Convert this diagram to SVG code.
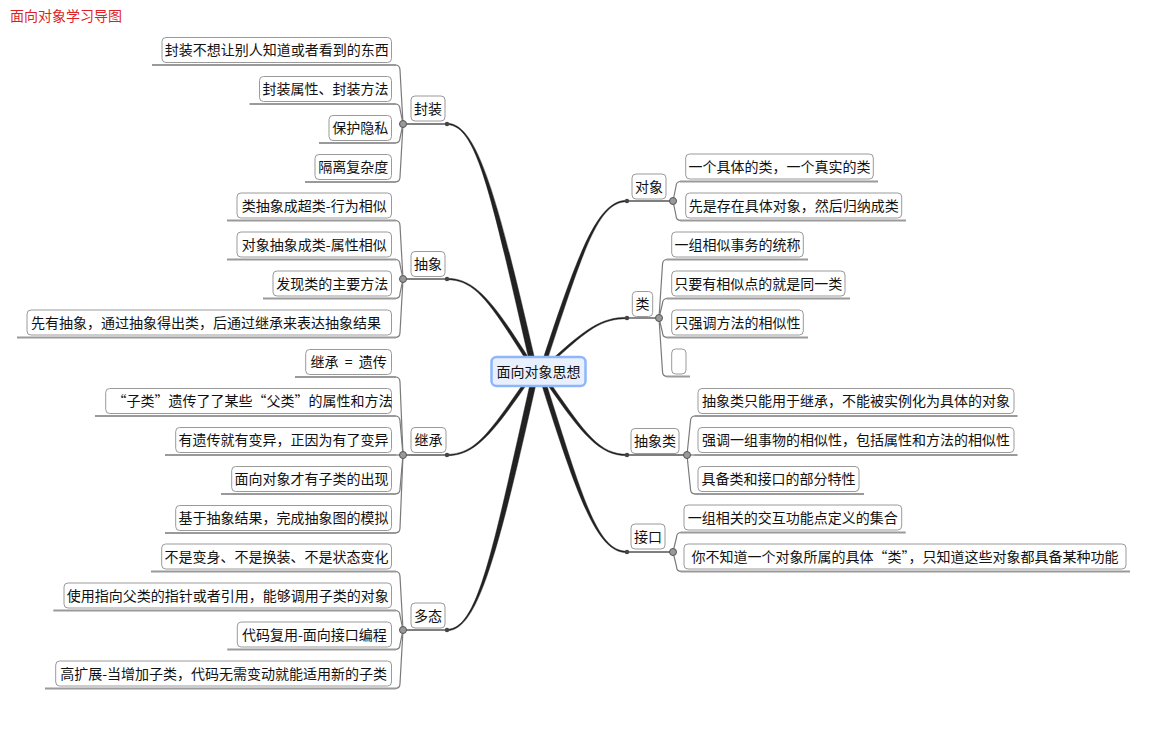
<svg xmlns="http://www.w3.org/2000/svg" width="1152" height="743" viewBox="0 0 1152 743">
<style>
.box{fill:#fff;stroke:#9a9a9a;stroke-width:1}
.t{font-family:"Noto Sans CJK SC","Liberation Sans",sans-serif;font-size:14px;fill:#111;text-anchor:middle}
.ul{stroke:#9a9a9a;stroke-width:2;fill:none}
.sp{stroke:#7a7a7a;stroke-width:1.2;fill:none}
.main{fill:#222;stroke:#222;stroke-width:0.4}
.tl{stroke:#555;stroke-width:1.4}
.jn{fill:#999;stroke:#555;stroke-width:1}
.dot{fill:#444}
.q{font-feature-settings:"fwid"}
</style>
<rect width="1152" height="743" fill="#fff"/>
<text x="10" y="20.5" class="t" style="text-anchor:start;fill:#dd1f26">面向对象学习导图</text>

<g id="connectors">
  <!-- main tapered branches -->
  <path class="main" d="M535,360 C496.75,193.9 476.75,123.25 447,123.25 L447,124.75 C476.75,124.75 490.75,193.9 529,360 Z"/>
  <path class="main" d="M530,360 C493.55,302.4 475.35,278.25 447,278.25 L447,279.75 C475.35,279.75 489.55,302.4 526,360 Z"/>
  <path class="main" d="M523,384 C487.9,434.6 474.3,454.25 447,454.25 L447,455.75 C474.3,455.75 491.9,434.6 527,384 Z"/>
  <path class="main" d="M530,384 C491.3,557.1 477.1,629.25 447,629.25 L447,630.75 C477.1,630.75 497.3,557.1 536,384 Z"/>
  <path class="main" d="M547.25,360 C584.15,247.8 598.3,201.75 627,201.75 L627,200.25 C598.3,200.25 579.65,247.8 542.75,360 Z"/>
  <path class="main" d="M554.75,360 C588.05,329.7 601.1,318.75 627,318.75 L627,317.25 C601.1,317.25 584.55,329.7 551.25,360 Z"/>
  <path class="main" d="M547,384 C582.1,434.6 599.7,455.75 627,455.75 L627,454.25 C599.7,454.25 586.1,434.6 551,384 Z"/>
  <path class="main" d="M541.5,384 C578.85,502.5 597.95,552.75 627,552.75 L627,551.25 C597.95,551.25 583.85,502.5 546.5,384 Z"/>

  <!-- topic lines -->
  <line class="tl" x1="403" y1="124" x2="447" y2="124"/>
  <line class="tl" x1="403" y1="279" x2="447" y2="279"/>
  <line class="tl" x1="403" y1="455" x2="447" y2="455"/>
  <line class="tl" x1="403" y1="630" x2="447" y2="630"/>
  <line class="tl" x1="627" y1="201" x2="673" y2="201"/>
  <line class="tl" x1="627" y1="318" x2="659" y2="318"/>
  <line class="tl" x1="627" y1="455" x2="687" y2="455"/>
  <line class="tl" x1="627" y1="552" x2="673" y2="552"/>

  <!-- 封装 spine -->
  <path class="sp" d="M403,124 L400,70 Q400,65 395,65"/>
  <path class="sp" d="M403,124 L400,109 Q400,104 395,104"/>
  <path class="sp" d="M403,124 L400,138 Q400,143 395,143"/>
  <path class="sp" d="M403,124 L400,177 Q400,182 395,182"/>
  <line class="ul" x1="152" y1="65" x2="396" y2="65"/>
  <line class="ul" x1="249.5" y1="104" x2="396" y2="104"/>
  <line class="ul" x1="319" y1="143" x2="396" y2="143"/>
  <line class="ul" x1="305" y1="182" x2="396" y2="182"/>

  <!-- 抽象 spine -->
  <path class="sp" d="M403,279 L400,225.5 Q400,220.5 395,220.5"/>
  <path class="sp" d="M403,279 L400,264.5 Q400,259.5 395,259.5"/>
  <path class="sp" d="M403,279 L400,293.5 Q400,298.5 395,298.5"/>
  <path class="sp" d="M403,279 L400,332.5 Q400,337.5 395,337.5"/>
  <line class="ul" x1="227" y1="220.5" x2="396" y2="220.5"/>
  <line class="ul" x1="227" y1="259.5" x2="396" y2="259.5"/>
  <line class="ul" x1="263" y1="298.5" x2="396" y2="298.5"/>
  <line class="ul" x1="17" y1="337.5" x2="396" y2="337.5"/>

  <!-- 继承 spine -->
  <path class="sp" d="M403,455 L400,382 Q400,377 395,377"/>
  <path class="sp" d="M403,455 L400,421 Q400,416 395,416"/>
  <path class="sp" d="M403,455 L395,455"/>
  <path class="sp" d="M403,455 L400,489 Q400,494 395,494"/>
  <path class="sp" d="M403,455 L400,528 Q400,533 395,533"/>
  <line class="ul" x1="295" y1="377" x2="396" y2="377"/>
  <line class="ul" x1="95" y1="416" x2="396" y2="416"/>
  <line class="ul" x1="165" y1="455" x2="396" y2="455"/>
  <line class="ul" x1="221" y1="494" x2="396" y2="494"/>
  <line class="ul" x1="165" y1="533" x2="396" y2="533"/>

  <!-- 多态 spine -->
  <path class="sp" d="M403,630 L400,576.5 Q400,571.5 395,571.5"/>
  <path class="sp" d="M403,630 L400,615.5 Q400,610.5 395,610.5"/>
  <path class="sp" d="M403,630 L400,644.5 Q400,649.5 395,649.5"/>
  <path class="sp" d="M403,630 L400,683.5 Q400,688.5 395,688.5"/>
  <line class="ul" x1="151" y1="571.5" x2="396" y2="571.5"/>
  <line class="ul" x1="53.3" y1="610.5" x2="396" y2="610.5"/>
  <line class="ul" x1="227.3" y1="649.5" x2="396" y2="649.5"/>
  <line class="ul" x1="45" y1="688.5" x2="396" y2="688.5"/>

  <!-- 对象 spine -->
  <path class="sp" d="M673,201 L676,186.5 Q676,181.5 681,181.5"/>
  <path class="sp" d="M673,201 L676,215.5 Q676,220.5 681,220.5"/>
  <line class="ul" x1="680" y1="181.5" x2="878" y2="181.5"/>
  <line class="ul" x1="680" y1="220.5" x2="906" y2="220.5"/>

  <!-- 类 spine -->
  <path class="sp" d="M659,318 L662.5,264.5 Q662.5,259.5 667.5,259.5"/>
  <path class="sp" d="M659,318 L662.5,303.5 Q662.5,298.5 667.5,298.5"/>
  <path class="sp" d="M659,318 L662.5,332.5 Q662.5,337.5 667.5,337.5"/>
  <path class="sp" d="M659,318 L662.5,371.5 Q662.5,376.5 667.5,376.5"/>
  <line class="ul" x1="666.5" y1="259.5" x2="808" y2="259.5"/>
  <line class="ul" x1="666.5" y1="298.5" x2="850" y2="298.5"/>
  <line class="ul" x1="666.5" y1="337.5" x2="808" y2="337.5"/>
  <line class="ul" x1="666.5" y1="376.5" x2="690" y2="376.5"/>

  <!-- 抽象类 spine -->
  <path class="sp" d="M687,455 L690.5,421 Q690.5,416 695.5,416"/>
  <path class="sp" d="M687,455 L695.5,455"/>
  <path class="sp" d="M687,455 L690.5,489 Q690.5,494 695.5,494"/>
  <line class="ul" x1="694.5" y1="416" x2="1017.5" y2="416"/>
  <line class="ul" x1="694.5" y1="455" x2="1017.5" y2="455"/>
  <line class="ul" x1="694.5" y1="494" x2="864" y2="494"/>

  <!-- 接口 spine -->
  <path class="sp" d="M673,552 L676.5,537.5 Q676.5,532.5 681.5,532.5"/>
  <path class="sp" d="M673,552 L676.5,566.5 Q676.5,571.5 681.5,571.5"/>
  <line class="ul" x1="680.5" y1="532.5" x2="905.7" y2="532.5"/>
  <line class="ul" x1="680.5" y1="571.5" x2="1130" y2="571.5"/>

  <!-- anchor dots and junctions -->
  <circle class="dot" cx="447" cy="124" r="2.2"/>
  <circle class="dot" cx="447" cy="279" r="2.2"/>
  <circle class="dot" cx="447" cy="455" r="2.2"/>
  <circle class="dot" cx="447" cy="630" r="2.2"/>
  <circle class="dot" cx="627" cy="201" r="2.2"/>
  <circle class="dot" cx="627" cy="318" r="2.2"/>
  <circle class="dot" cx="627" cy="455" r="2.2"/>
  <circle class="dot" cx="627" cy="552" r="2.2"/>
  <circle class="jn" cx="403" cy="124" r="3.5"/>
  <circle class="jn" cx="403" cy="279" r="3.5"/>
  <circle class="jn" cx="403" cy="455" r="3.5"/>
  <circle class="jn" cx="403" cy="630" r="3.5"/>
  <circle class="jn" cx="673" cy="201" r="3.5"/>
  <circle class="jn" cx="659" cy="318" r="3.5"/>
  <circle class="jn" cx="687" cy="455" r="3.5"/>
  <circle class="jn" cx="673" cy="552" r="3.5"/>
</g>

<g id="center">
  <rect x="491.5" y="357" width="94" height="29" rx="5" fill="#e9f0fd" stroke="#8fb6fa" stroke-width="2.5"/>
  <text x="538.5" y="377" class="t">面向对象思想</text>
</g>

<!-- 封装 -->
<g id="topic-fengzhuang"><rect class="box" x="411" y="96" width="34" height="25" rx="4"/><text class="t" x="428" y="113.5">封装</text></g>
<g id="fz-1"><rect class="box" x="162" y="37.5" width="229.5" height="25" rx="4"/><text class="t" x="276.75" y="55">封装不想让别人知道或者看到的东西</text></g>
<g id="fz-2"><rect class="box" x="259.5" y="76.5" width="132" height="25" rx="4"/><text class="t" x="325.5" y="94">封装属性、封装方法</text></g>
<g id="fz-3"><rect class="box" x="329" y="115.5" width="62.5" height="25" rx="4"/><text class="t" x="360.25" y="133">保护隐私</text></g>
<g id="fz-4"><rect class="box" x="315" y="154.5" width="76.5" height="25" rx="4"/><text class="t" x="353.25" y="172">隔离复杂度</text></g>

<!-- 抽象 -->
<g id="topic-chouxiang"><rect class="box" x="411" y="251.5" width="34" height="25" rx="4"/><text class="t" x="428" y="269">抽象</text></g>
<g id="cx-1"><rect class="box" x="237" y="193" width="154.5" height="25" rx="4"/><text class="t" x="314.25" y="210.5">类抽象成超类-行为相似</text></g>
<g id="cx-2"><rect class="box" x="237" y="232" width="154.5" height="25" rx="4"/><text class="t" x="314.25" y="249.5">对象抽象成类-属性相似</text></g>
<g id="cx-3"><rect class="box" x="273" y="271" width="118.5" height="25" rx="4"/><text class="t" x="332.25" y="288.5">发现类的主要方法</text></g>
<g id="cx-4"><rect class="box" x="27" y="310" width="364.5" height="25" rx="4"/><text class="t" x="206" y="327.5">先有抽象，通过抽象得出类，后通过继承来表达抽象结果</text></g>

<!-- 继承 -->
<g id="topic-jicheng"><rect class="box" x="411" y="427.5" width="35" height="25" rx="4"/><text class="t" x="428.5" y="445">继承</text></g>
<g id="jc-1"><rect class="box" x="305.7" y="349.5" width="85.8" height="25" rx="4"/><text class="t" x="348.6" y="367" xml:space="preserve">继承  =  遗传</text></g>
<g id="jc-2"><rect class="box" x="105.7" y="388.5" width="285.8" height="25" rx="4"/><text class="t" x="252.5" y="406"><tspan class="q">“</tspan>子类<tspan class="q">”</tspan>遗传了了某些<tspan class="q">“</tspan>父类<tspan class="q">”</tspan>的属性和方法</text></g>
<g id="jc-3"><rect class="box" x="175.7" y="427.5" width="215.8" height="25" rx="4"/><text class="t" x="283.6" y="445">有遗传就有变异，正因为有了变异</text></g>
<g id="jc-4"><rect class="box" x="231.7" y="466.5" width="159.8" height="25" rx="4"/><text class="t" x="311.6" y="484">面向对象才有子类的出现</text></g>
<g id="jc-5"><rect class="box" x="175.7" y="505.5" width="215.8" height="25" rx="4"/><text class="t" x="283.6" y="523">基于抽象结果，完成抽象图的模拟</text></g>

<!-- 多态 -->
<g id="topic-duotai"><rect class="box" x="411" y="603" width="34" height="25" rx="4"/><text class="t" x="428" y="620.5">多态</text></g>
<g id="dt-1"><rect class="box" x="161.7" y="544" width="229.8" height="25" rx="4"/><text class="t" x="276.6" y="561.5">不是变身、不是换装、不是状态变化</text></g>
<g id="dt-2"><rect class="box" x="64" y="583" width="327.5" height="25" rx="4"/><text class="t" x="227.75" y="600.5">使用指向父类的指针或者引用，能够调用子类的对象</text></g>
<g id="dt-3"><rect class="box" x="237.3" y="622" width="154.2" height="25" rx="4"/><text class="t" x="314.4" y="639.5">代码复用-面向接口编程</text></g>
<g id="dt-4"><rect class="box" x="55.7" y="661" width="335.8" height="25" rx="4"/><text class="t" x="223.6" y="678.5">高扩展-当增加子类，代码无需变动就能适用新的子类</text></g>

<!-- 对象 -->
<g id="topic-duixiang"><rect class="box" x="632" y="174" width="34" height="25" rx="4"/><text class="t" x="649" y="191.5">对象</text></g>
<g id="dx-1"><rect class="box" x="685.7" y="154" width="187.6" height="25" rx="4"/><text class="t" x="779.5" y="171.5">一个具体的类，一个真实的类</text></g>
<g id="dx-2"><rect class="box" x="685.7" y="193" width="216" height="25" rx="4"/><text class="t" x="793.7" y="210.5">先是存在具体对象，然后归纳成类</text></g>

<!-- 类 -->
<g id="topic-lei"><rect class="box" x="632.3" y="291.5" width="20.4" height="25" rx="4"/><text class="t" x="642.5" y="309">类</text></g>
<g id="lei-1"><rect class="box" x="671.7" y="232" width="131.6" height="25" rx="4"/><text class="t" x="737.5" y="249.5">一组相似事务的统称</text></g>
<g id="lei-2"><rect class="box" x="671.7" y="271" width="173.3" height="25" rx="4"/><text class="t" x="758.35" y="288.5">只要有相似点的就是同一类</text></g>
<g id="lei-3"><rect class="box" x="671.7" y="310" width="131.6" height="25" rx="4"/><text class="t" x="737.5" y="327.5">只强调方法的相似性</text></g>
<g id="lei-4"><rect class="box" x="671.7" y="349" width="14.3" height="25" rx="4"/></g>

<!-- 抽象类 -->
<g id="topic-chouxianglei"><rect class="box" x="631" y="428.5" width="48" height="25" rx="4"/><text class="t" x="655" y="446">抽象类</text></g>
<g id="cxl-1"><rect class="box" x="698" y="388.5" width="316" height="25" rx="4"/><text class="t" x="856" y="406">抽象类只能用于继承，不能被实例化为具体的对象</text></g>
<g id="cxl-2"><rect class="box" x="698" y="427.5" width="316" height="25" rx="4"/><text class="t" x="856" y="445">强调一组事物的相似性，包括属性和方法的相似性</text></g>
<g id="cxl-3"><rect class="box" x="698" y="466.5" width="161" height="25" rx="4"/><text class="t" x="778.5" y="484">具备类和接口的部分特性</text></g>

<!-- 接口 -->
<g id="topic-jiekou"><rect class="box" x="631" y="524" width="34" height="25" rx="4"/><text class="t" x="648" y="541.5">接口</text></g>
<g id="jk-1"><rect class="box" x="684" y="505" width="217.7" height="25" rx="4"/><text class="t" x="792.85" y="522.5">一组相关的交互功能点定义的集合</text></g>
<g id="jk-2"><rect class="box" x="684" y="544" width="442" height="25" rx="4"/><text class="t" x="905" y="561.5">你不知道一个对象所属的具体<tspan class="q">“</tspan>类<tspan class="q">”</tspan>，只知道这些对象都具备某种功能</text></g>
</svg>
